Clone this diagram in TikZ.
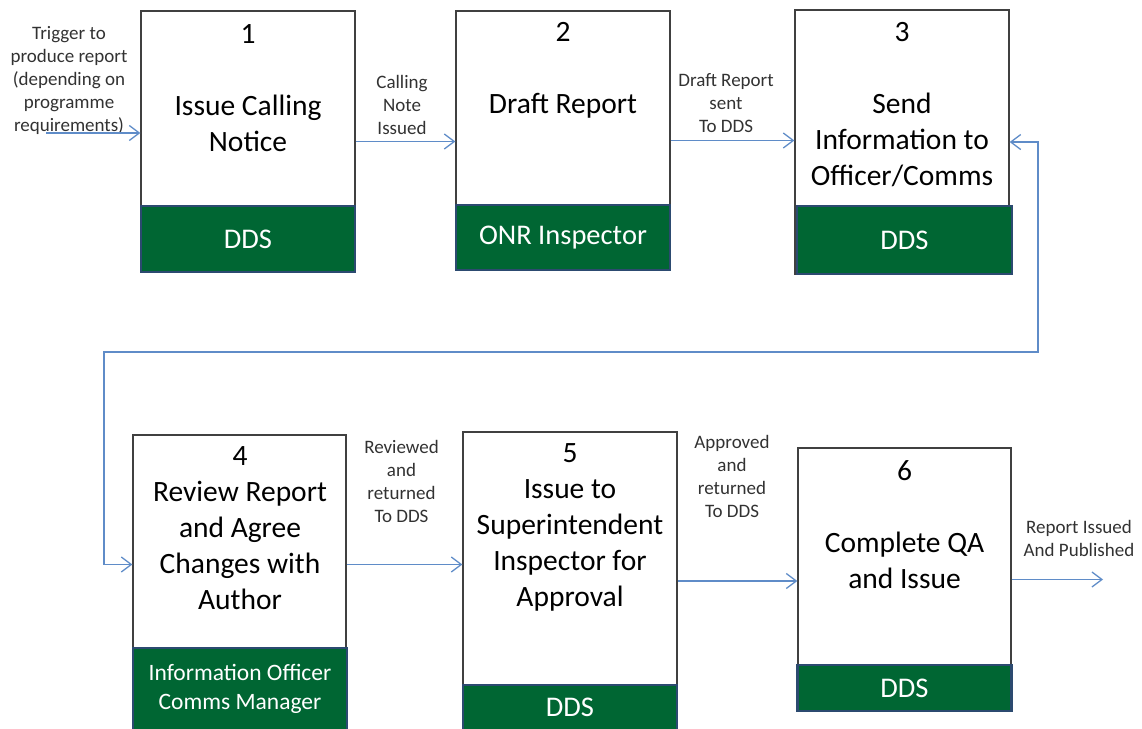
\documentclass[tikz,border=0pt]{standalone}
\usepackage{fontspec}
\setmainfont{Carlito}
\usetikzlibrary{arrows.meta}
\definecolor{ddsgreen}{RGB}{0,102,51}
\definecolor{barline}{RGB}{44,74,112}
\definecolor{flowblue}{RGB}{95,140,200}
\definecolor{boxline}{RGB}{64,64,64}
\definecolor{notegray}{RGB}{50,50,50}
\tikzset{
	stepbox/.style={draw=boxline, line width=1.3pt, fill=white, inner sep=0pt},
	rolebar/.style={draw=barline, line width=2.5pt, fill=ddsgreen, text=white, inner sep=0pt, align=center, font=\fontsize{28.5}{29}\selectfont},
	steptitle/.style={align=center, inner sep=0pt, font=\fontsize{29.5}{36}\selectfont},
	note/.style={align=center, inner sep=0pt, text=notegray, font=\fontsize{19}{23}\selectfont},
	flow/.style={draw=flowblue, line width=1.3pt, -{Straight Barb[length=10pt,width=15pt]}}
}

\begin{document}
\begin{tikzpicture}[x=1pt, y=-1pt]
	\useasboundingbox (0,0) rectangle (1142,728);
	\clip (0,0) rectangle (1142,728);

	\node[stepbox, minimum width=214pt, minimum height=261pt] (s1) at (248,141.5) {};
	\node[stepbox, minimum width=214pt, minimum height=259pt] (s2) at (563,140.5) {};
	\node[stepbox, minimum width=214pt, minimum height=264pt] (s3) at (902,142) {};
	\node[stepbox, minimum width=213pt, minimum height=295pt] (s4) at (239.5,582.5) {};
	\node[stepbox, minimum width=214pt, minimum height=298pt] (s5) at (570,581) {};
	\node[stepbox, minimum width=213pt, minimum height=263pt] (s6) at (904.5,579.5) {};

	\node[rolebar, minimum width=214pt, minimum height=66pt] (r1) at (248,239) {DDS};
	\node[rolebar, minimum width=214pt, minimum height=65pt] (r2) at (563,237.5) {ONR Inspector};
	\node[rolebar, minimum width=215pt, minimum height=68pt] (r3) at (904.5,240) {DDS};
	\node[rolebar, minimum width=214pt, minimum height=82pt, font=\fontsize{23.5}{29}\selectfont] (r4) at (240,689) {Information Officer\\Comms Manager};
	\node[rolebar, minimum width=214pt, minimum height=45pt] (r5) at (570,707.5) {DDS};
	\node[rolebar, minimum width=214pt, minimum height=46pt] (r6) at (904.5,688) {DDS};

	\node[steptitle] (t1) at (248,88) {1\\[36pt]Issue Calling\\Notice};
	\node[steptitle] (t2) at (563,70) {2\\[36pt]Draft Report};
	\node[steptitle] (t3) at (902,104.5) {3\\[36pt]Send\\Information to\\Officer/Comms};
	\node[steptitle] (t4) at (240,528) {4\\Review Report\\and Agree\\Changes with\\Author};
	\node[steptitle] (t5) at (570,527) {5\\Issue to\\Superintendent\\Inspector for\\Approval};
	\node[steptitle] (t6) at (904.5,524.5) {6\\[36pt]Complete QA\\and Issue};

	\node[note] (ltrig) at (69,80.5) {Trigger to\\produce report\\(depending on\\programme\\requirements)};
	\node[note] (l12) at (402,105) {Calling\\Note\\Issued};
	\node[note] (l23) at (726,103) {Draft Report\\sent\\To DDS};
	\node[note] (l45) at (401.5,481) {Reviewed\\and\\returned\\To DDS};
	\node[note] (l56) at (732,476) {Approved\\and\\returned\\To DDS};
	\node[note] (lout) at (1079,538) {Report Issued\\And Published};

	\coordinate (trig) at (46,133);
	\coordinate (loopR) at (1038,352);
	\coordinate (loopL) at (104,352);
	\coordinate (done) at (1103,579.5);

	\draw[flow] (trig) -- (trig -| s1.west);
	\draw[flow] (s1.east) -- (s1.east -| s2.west);
	\draw[flow] (s2.east) -- (s2.east -| s3.west);
	\draw[flow, {Straight Barb[length=10pt,width=15pt]}-{Straight Barb[length=10pt,width=15pt]}] (s3.east) -| (loopR) -- (loopL) |- ([yshift=18pt]s4.west);
	\draw[flow] ([yshift=18pt]s4.east) coordinate (o4) -- (o4 -| s5.west);
	\draw[flow] (s5.east) -- (s5.east -| s6.west);
	\draw[flow] (s6.east) -- (done);
\end{tikzpicture}
\end{document}
